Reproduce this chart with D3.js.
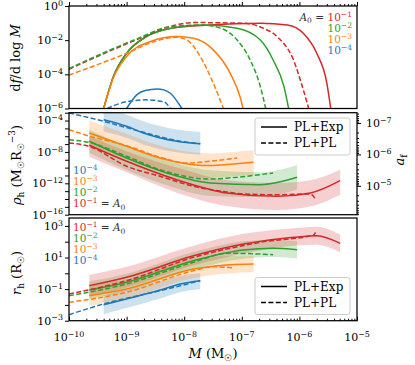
<!DOCTYPE html>
<html>
<head>
<meta charset="utf-8">
<script src="https://cdn.jsdelivr.net/npm/d3@7"></script>
<style>
body { margin: 0; background: #fff; }
text { font-family: "DejaVu Serif", "Liberation Serif", serif; fill: #000; }
</style>
</head>
<body>
<div id="chart"></div>
<script>
// A0 values, colours in legend order (1e-1 .. 1e-4)
var a0Labels = ["\u22121", "\u22122", "\u22123", "\u22124"];
var a0Colors = ["#d62728", "#2ca02c", "#ff7f0e", "#1f77b4"];

// ---------- top panel: df/dlogM, [M, value] ----------
var topExp1 = [[4.0e-10,1e-6],[5.9e-10,7.4e-5],[1e-9,1.7e-3],[2.2e-9,0.0162],[5.75e-9,0.049],[2.8e-8,0.0776],[2.1e-7,0.0977],[6.2e-7,0.0776],[1.17e-6,0.0251],[2.0e-6,1.7e-3],[3.0e-6,3.0e-5],[3.5e-6,1e-6]];
var topExp2 = [[4.0e-10,1e-6],[5.9e-10,7.4e-5],[1e-9,1.7e-3],[2.2e-9,0.0162],[5.75e-9,0.049],[2.2e-8,0.0776],[8.3e-8,0.0501],[2.1e-7,0.0102],[3.5e-7,6.9e-4],[5.4e-7,1.9e-5],[6.5e-7,1e-6]];
var topExp3 = [[4.0e-10,1e-6],[5.9e-10,6.3e-5],[1e-9,1.1e-3],[2.6e-9,8.3e-3],[7.4e-9,0.0162],[1.45e-8,0.0129],[3.2e-8,2.7e-3],[6.3e-8,1.15e-4],[9.3e-8,5.0e-6],[1.05e-7,1e-6]];
var topExp4 = [[1e-9,1e-6],[1.5e-9,6.3e-6],[2.1e-9,1.12e-5],[3.4e-9,1.4e-5],[4.4e-9,1.23e-5],[5.75e-9,7.8e-6],[9.1e-9,1e-6]];
var topPl1 = [[1e-10,2.0e-4],[1.7e-9,0.0129],[5.0e-9,0.0562],[1.45e-8,0.107],[1.07e-7,0.0977],[2.4e-7,0.049],[4.1e-7,0.0162],[7.9e-7,6.9e-4],[1.17e-6,1.23e-5],[1.45e-6,1e-6]];
var topPl2 = [[1e-10,2.2e-4],[1.7e-9,0.0141],[5.0e-9,0.0562],[1.9e-8,0.0776],[4.3e-8,0.0501],[8.3e-8,0.0102],[1.4e-7,6.9e-4],[2.1e-7,1.9e-5],[2.6e-7,1e-6]];
var topPl3 = [[1e-10,9.1e-5],[1e-9,1.7e-3],[2.95e-9,8.1e-3],[7.4e-9,0.0148],[1.12e-8,0.0102],[1.9e-8,1.1e-3],[3.2e-8,3.0e-5],[4.8e-8,1e-6]];
var topPl4 = [[4.6e-10,1e-6],[1e-9,2.5e-6],[2.2e-9,3.2e-6],[4.4e-9,2.5e-6],[5.75e-9,1e-6]];

// ---------- middle panel: rho_h ----------
var midM1 = [2.25e-10,1e-9,7.4e-9,5.5e-8,4.1e-7,1.55e-6,5.1e-6];
var midExp1 = [7.1e-8,6.5e-10,2.9e-12,5.9e-14,2.2e-14,5.9e-14,2.2e-12];
var midHi1 = [1e-6,1.26e-8,1e-10,2.5e-12,1.1e-12,2.5e-12,5.5e-11];
var midLo1 = [2.5e-9,2.5e-11,6.3e-14,1.26e-15,4.0e-16,1.1e-15,3.5e-14];
var midM2 = [2.25e-10,1e-9,5.0e-9,2.8e-8,2.1e-7,9.1e-7];
var midExp2 = [2.3e-7,1.7e-9,2.1e-11,1.1e-12,6.8e-13,5.9e-12];
var midHi2 = [6.8e-6,5.6e-8,7.9e-10,4.5e-11,2.5e-11,2.0e-10];
var midLo2 = [7.9e-9,5.0e-11,5.6e-13,2.5e-14,1.8e-14,1.6e-13];
var midM3 = [2.25e-10,1e-9,3.8e-9,1.45e-8,2.8e-8,7.2e-8,1.6e-7];
var midExp3 = [2.6e-6,5.2e-8,1.7e-9,2.4e-10,1.8e-10,2.9e-10,4.8e-10];
var midHi3 = [1e-4,2.0e-6,6.3e-8,8.9e-9,6.3e-9,1e-8,1.6e-8];
var midLo3 = [7.1e-8,1.4e-9,4.5e-11,6.3e-12,5.0e-12,7.9e-12,1.26e-11];
var midM4 = [4.0e-10,1e-9,1.96e-9,7.4e-9,1.9e-8];
var midExp4 = [1.3e-4,1.9e-5,2.6e-6,2.3e-7,1.1e-7];
var midHi4 = [4.0e-3,5.6e-4,7.9e-5,7.1e-6,3.5e-6];
var midLo4 = [4.0e-6,6.3e-7,8.9e-8,8.9e-9,4.5e-9];
var midPl1 = [[1e-10,1.4e-7],[2.25e-10,5.0e-8],[1e-9,1.5e-10],[3.8e-9,7.9e-12],[1.45e-8,4.2e-13],[5.5e-8,7.9e-14],[1.07e-7,4.4e-14],[4.1e-7,3.5e-14],[1.55e-6,4.4e-14],[1.9e-6,1e-14]];
var midPl2 = [[1e-10,3.6e-7],[2.25e-10,1.6e-7],[1e-9,2.8e-9],[3.8e-9,5.5e-11],[2.8e-8,3.5e-12],[6.3e-8,5.0e-12],[3.5e-7,2.1e-11]];
var midPl3 = [[1e-10,6.8e-6],[2.3e-10,9.8e-7],[1e-9,6.3e-8],[3.8e-9,2.1e-9],[1.12e-8,3.9e-10],[2.8e-8,6.5e-10],[8.3e-8,1.7e-9]];
var midPl4 = [[1e-10,9.1e-4],[4.0e-10,7.9e-5],[1e-9,1.26e-5],[1.96e-9,3.2e-6],[7.4e-9,2.8e-7],[1.9e-8,1.1e-7]];

// ---------- bottom panel: r_h ----------
var botM1 = [2.25e-10,1e-9,1.45e-8,1.07e-7,7.9e-7,2.0e-6,5.1e-6];
var botExp1 = [0.166,0.56,12.9,71,190,240,79];
var botHi1 = [0.78,2.6,56,316,708,890,275];
var botLo1 = [0.038,0.126,3.2,17.8,56,63,21];
var botM2 = [2.25e-10,1e-9,1.45e-8,1.07e-7,3.5e-7,9.1e-7];
var botExp2 = [0.087,0.27,6.3,29.5,38,31];
var botHi2 = [0.31,0.95,22.4,105,135,110];
var botLo2 = [0.0245,0.076,1.78,8.3,10.7,8.7];
var botM3 = [2.25e-10,1e-9,1.45e-8,6.3e-8,1.6e-7];
var botExp3 = [0.038,0.102,1.86,3.5,3.9];
var botHi3 = [0.19,0.41,7.9,12.6,12.9];
var botLo3 = [0.0089,0.025,0.5,1.0,1.15];
var botM4 = [4.0e-10,3.8e-9,8.5e-9,1.9e-8];
var botExp4 = [0.0102,0.087,0.21,0.34];
var botHi4 = [0.038,0.32,0.71,1.0];
var botLo4 = [0.0026,0.025,0.063,0.102];
var botPl1 = [[1e-10,0.049],[1e-9,0.34],[1.45e-8,10.2],[2.1e-7,91],[1.8e-6,275],[1.9e-6,390]];
var botPl2 = [[1e-10,0.038],[1e-9,0.21],[1.45e-8,5.0],[5.5e-8,18.6],[3.5e-7,15.1]];
var botPl3 = [[1e-10,0.0145],[1e-9,0.063],[1.45e-8,1.45],[3.2e-8,2.6],[7.2e-8,2.2]];
var botPl4 = [[1e-10,0.0024],[4.0e-10,0.0115],[3.8e-9,0.079],[1.9e-8,0.34]];

// ---------- layout ----------
var width = 415, height = 365;
var xL = 69, xR = 357;
var svg = d3.select("#chart").append("svg")
    .attr("width", width).attr("height", height);

var x = d3.scaleLog().domain([1e-10, 1e-5]).range([xL, xR]);
var yTop = d3.scaleLog().domain([1e-6, 1]).range([108.5, 6]);
var yMid = d3.scaleLog().domain([1e-16, 1e-3]).range([214.7, 112.7]);
var yAf = d3.scaleLog().domain([Math.pow(10, -7.33), Math.pow(10, -4.08)]).range([112.7, 214.7]);
var yBot = d3.scaleLog().domain([1e-3, Math.pow(10, 3.5)]).range([320.7, 218]);

function decades(lo, hi, step) {
    var out = [];
    for (var e = lo; e <= hi; e += (step || 1)) out.push(Math.pow(10, e));
    return out;
}
function minors(lo, hi) {
    var out = [];
    for (var e = lo; e <= hi; e++) for (var k = 2; k <= 9; k++) out.push(k * Math.pow(10, e));
    return out;
}
function powText(g, px, py, expo, anchor, size) {
    var t = g.append("text").attr("x", px).attr("y", py)
        .attr("text-anchor", anchor).style("font-size", size + "px");
    t.append("tspan").text("10");
    t.append("tspan").attr("dy", -size * 0.38).style("font-size", (size * 0.72) + "px").text(expo);
    return t;
}
function expStr(v) {
    var e = Math.round(Math.log10(v));
    return (e < 0 ? "\u2212" : "") + Math.abs(e);
}

var lineGen = function (yS) {
    return d3.line().x(function (d) { return x(d[0]); }).y(function (d) { return yS(d[1]); })
        .curve(d3.curveMonotoneX);
};
var areaGen = function (yS) {
    return d3.area().x(function (d) { return x(d.m); })
        .y0(function (d) { return yS(d.lo); }).y1(function (d) { return yS(d.hi); })
        .curve(d3.curveMonotoneX);
};

function panel(id, yS, y0, y1) {
    svg.append("clipPath").attr("id", "clip-" + id).append("rect")
        .attr("x", xL).attr("y", y0).attr("width", xR - xL).attr("height", y1 - y0);
    return svg.append("g").attr("clip-path", "url(#clip-" + id + ")");
}

function drawBand(g, yS, M, lo, hi, col) {
    var rows = M.map(function (m, i) { return { m: m, lo: lo[i], hi: hi[i] }; });
    g.append("path").datum(rows).attr("d", areaGen(yS))
        .style("fill", col).style("fill-opacity", 0.22).style("stroke", "none");
}
function drawLine(g, yS, pts, col, dashed) {
    g.append("path").datum(pts).attr("d", lineGen(yS))
        .style("fill", "none").style("stroke", col).style("stroke-width", 1.5)
        .style("stroke-dasharray", dashed ? "5,2.4" : null);
}
function zip(M, v) { return M.map(function (m, i) { return [m, v[i]]; }); }

// ---------- top panel ----------
var gTop = panel("top", yTop, 6, 108.5);
[topExp1, topExp2, topExp3, topExp4].forEach(function (s, i) { drawLine(gTop, yTop, s, a0Colors[i], false); });
[topPl1, topPl2, topPl3, topPl4].forEach(function (s, i) { drawLine(gTop, yTop, s, a0Colors[i], true); });

// ---------- middle panel ----------
var gMid = panel("mid", yMid, 112.7, 214.7);
var midM = [midM1, midM2, midM3, midM4], midExp = [midExp1, midExp2, midExp3, midExp4];
var midLo = [midLo1, midLo2, midLo3, midLo4], midHi = [midHi1, midHi2, midHi3, midHi4];
var midPl = [midPl1, midPl2, midPl3, midPl4];
[3, 2, 1, 0].forEach(function (i) { drawBand(gMid, yMid, midM[i], midLo[i], midHi[i], a0Colors[i]); });
[3, 2, 1, 0].forEach(function (i) {
    drawLine(gMid, yMid, zip(midM[i], midExp[i]), a0Colors[i], false);
    drawLine(gMid, yMid, midPl[i], a0Colors[i], true);
});

// ---------- bottom panel ----------
var gBot = panel("bot", yBot, 218, 320.7);
var botM = [botM1, botM2, botM3, botM4], botExp = [botExp1, botExp2, botExp3, botExp4];
var botLo = [botLo1, botLo2, botLo3, botLo4], botHi = [botHi1, botHi2, botHi3, botHi4];
var botPl = [botPl1, botPl2, botPl3, botPl4];
[3, 2, 1, 0].forEach(function (i) { drawBand(gBot, yBot, botM[i], botLo[i], botHi[i], a0Colors[i]); });
[3, 2, 1, 0].forEach(function (i) {
    drawLine(gBot, yBot, zip(botM[i], botExp[i]), a0Colors[i], false);
    drawLine(gBot, yBot, botPl[i], a0Colors[i], true);
});

// ---------- axes ----------
function yAxisLeft(yS, ticks, labels) {
    svg.append("g").attr("transform", "translate(" + xL + ",0)")
        .call(d3.axisLeft(yS).tickValues(ticks).tickFormat("").tickSize(4).tickSizeOuter(0))
        .call(function (g) { g.select(".domain").remove(); });
    var lg = svg.append("g");
    labels.forEach(function (v) { powText(lg, xL - 6, yS(v) + 3.8, expStr(v), "end", 11); });
}
yAxisLeft(yTop, decades(-6, 0, 2), decades(-6, 0, 2));
yAxisLeft(yMid, decades(-16, -3), decades(-16, -4, 4));
yAxisLeft(yBot, decades(-3, 3), decades(-3, 3, 2));

// right axis a_f (inverted)
var gAf = svg.append("g").attr("transform", "translate(" + xR + ",0)");
gAf.call(d3.axisRight(yAf).tickValues(decades(-7, -5)).tickFormat("").tickSize(4).tickSizeOuter(0))
    .call(function (g) { g.select(".domain").remove(); });
gAf.append("g").call(d3.axisRight(yAf)
    .tickValues(minors(-8, -5).filter(function (v) { return v >= yAf.domain()[0] && v <= yAf.domain()[1]; }))
    .tickFormat("").tickSize(2).tickSizeOuter(0))
    .call(function (g) { g.select(".domain").remove(); });
decades(-7, -5).forEach(function (v) { powText(svg, xR + 9, yAf(v) + 3.8, expStr(v), "start", 11); });

// x axis ticks: bottom (inward) and top of top panel (outward)
var xMajor = decades(-10, -5), xMinor = minors(-10, -6);
svg.append("g").attr("transform", "translate(0,320.7)")
    .call(d3.axisBottom(x).tickValues(xMajor).tickFormat("").tickSize(-4).tickSizeOuter(0))
    .call(function (g) { g.select(".domain").remove(); });
svg.append("g").attr("transform", "translate(0,320.7)")
    .call(d3.axisBottom(x).tickValues(xMinor).tickFormat("").tickSize(-2).tickSizeOuter(0))
    .call(function (g) { g.select(".domain").remove(); });
svg.append("g").attr("transform", "translate(0,6)")
    .call(d3.axisTop(x).tickValues(xMajor).tickFormat("").tickSize(4).tickSizeOuter(0))
    .call(function (g) { g.select(".domain").remove(); });
svg.append("g").attr("transform", "translate(0,6)")
    .call(d3.axisTop(x).tickValues(xMinor).tickFormat("").tickSize(2).tickSizeOuter(0))
    .call(function (g) { g.select(".domain").remove(); });
xMajor.forEach(function (v) { powText(svg, x(v), 341, expStr(v), "middle", 11); });

// panel frames
[[6, 108.5], [112.7, 214.7], [218, 320.7]].forEach(function (p) {
    svg.append("rect").attr("x", xL).attr("y", p[0]).attr("width", xR - xL).attr("height", p[1] - p[0])
        .style("fill", "none").style("stroke", "#000").style("stroke-width", 1.25);
});

// ---------- axis titles ----------
var tTop = svg.append("text").attr("transform", "translate(20,58) rotate(-90)")
    .attr("text-anchor", "middle").style("font-size", "13px");
tTop.append("tspan").text("d");
tTop.append("tspan").style("font-style", "italic").text("f");
tTop.append("tspan").text("/d log ");
tTop.append("tspan").style("font-style", "italic").text("M");

var tMid = svg.append("text").attr("transform", "translate(21,165) rotate(-90)")
    .attr("text-anchor", "middle").style("font-size", "13px");
tMid.append("tspan").style("font-style", "italic").text("\u03c1");
tMid.append("tspan").attr("dy", 3).style("font-size", "9px").text("h");
tMid.append("tspan").attr("dy", -3).text(" (M");
tMid.append("tspan").attr("dy", 3).style("font-size", "9px").text("\u2609");
tMid.append("tspan").attr("dy", -3).text("R");
tMid.append("tspan").attr("dy", 3).style("font-size", "9px").text("\u2609");
tMid.append("tspan").attr("dy", -9).style("font-size", "9px").text("\u22123");
tMid.append("tspan").attr("dy", 6).text(")");

var tBot = svg.append("text").attr("transform", "translate(21,273) rotate(-90)")
    .attr("text-anchor", "middle").style("font-size", "13px");
tBot.append("tspan").style("font-style", "italic").text("r");
tBot.append("tspan").attr("dy", 3).style("font-size", "9px").text("h");
tBot.append("tspan").attr("dy", -3).text(" (R");
tBot.append("tspan").attr("dy", 3).style("font-size", "9px").text("\u2609");
tBot.append("tspan").attr("dy", -3).text(")");

var tX = svg.append("text").attr("x", 213).attr("y", 358)
    .attr("text-anchor", "middle").style("font-size", "13px");
tX.append("tspan").style("font-style", "italic").text("M");
tX.append("tspan").text(" (M");
tX.append("tspan").attr("dy", 3).style("font-size", "9px").text("\u2609");
tX.append("tspan").attr("dy", -3).text(")");

var tAf = svg.append("text").attr("transform", "translate(404,160) rotate(-90)")
    .attr("text-anchor", "middle").style("font-size", "13px");
tAf.append("tspan").style("font-style", "italic").text("a");
tAf.append("tspan").attr("dy", 3).style("font-size", "9px").text("f");

// ---------- A0 legends ----------
var legSize = 10.5;
// top panel: right aligned
[0, 1, 2, 3].forEach(function (i) {
    var t = powText(svg, 352, 20.5 + i * 11.2, a0Labels[i], "end", legSize);
    t.selectAll("tspan").style("fill", a0Colors[i]);
});
var a0Txt = svg.append("text").attr("x", 324).attr("y", 20.5).attr("text-anchor", "end")
    .style("font-size", legSize + "px");
a0Txt.append("tspan").style("font-style", "italic").style("fill", "#333").text("A");
a0Txt.append("tspan").attr("dy", 2.5).style("font-size", "7.5px").style("fill", "#333").text("0");
a0Txt.append("tspan").attr("dy", -2.5).style("fill", "#333").text(" =");

function a0Legend(order, yStart) {
    order.forEach(function (i, k) {
        var yy = yStart + k * 11.1;
        var t = powText(svg, 73, yy, a0Labels[i], "start", legSize);
        t.selectAll("tspan").style("fill", a0Colors[i]);
        if (i === 0) {
            t.append("tspan").attr("dy", legSize * 0.38).style("fill", "#333").text(" = ");
            t.append("tspan").style("font-style", "italic").style("fill", "#333").text("A");
            t.append("tspan").attr("dy", 2.5).style("font-size", "7.5px").style("fill", "#333").text("0");
        }
    });
}
a0Legend([3, 2, 1, 0], 174);
a0Legend([0, 1, 2, 3], 231);

// ---------- model legends ----------
function modelLegend(bx, by) {
    var g = svg.append("g");
    g.append("rect").attr("x", bx).attr("y", by).attr("width", 95).attr("height", 37).attr("rx", 2.5)
        .style("fill", "#fff").style("fill-opacity", 0.8).style("stroke", "#ccc").style("stroke-width", 1);
    [["PL+Exp", false], ["PL+PL", true]].forEach(function (r, k) {
        var yy = by + 9 + k * 16;
        g.append("line").attr("x1", bx + 6).attr("x2", bx + 32).attr("y1", yy).attr("y2", yy)
            .style("stroke", "#000").style("stroke-width", 1.5)
            .style("stroke-dasharray", r[1] ? "5,2.4" : null);
        g.append("text").attr("x", bx + 39).attr("y", yy + 4).style("font-size", "12px").text(r[0]);
    });
}
modelLegend(255, 118);
modelLegend(255, 277.5);
</script>
</body>
</html>
